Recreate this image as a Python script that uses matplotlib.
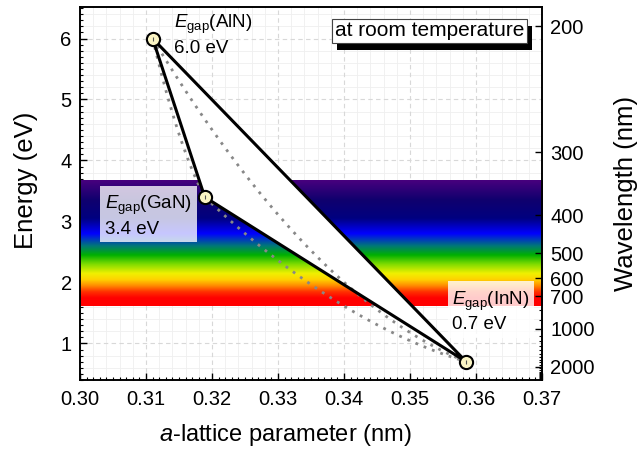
import numpy as np
import matplotlib
matplotlib.use("Agg")
import matplotlib.pyplot as plt
from matplotlib.colors import to_rgb
from matplotlib.patches import Rectangle

# ---- data ----
materials = ["AlN", "GaN", "InN"]
lattice_a = [0.311, 0.3189, 0.3585]   # nm
gap_ev = [6.0, 3.4, 0.7]              # eV
gap_labels = ["6.0 eV", "3.4 eV", "0.7 eV"]
bowing = {("AlN", "GaN"): 1.0, ("GaN", "InN"): 1.4, ("AlN", "InN"): 3.2}
wl_major = [200, 300, 400, 500, 600, 700, 1000, 2000]
wl_minor = [800, 900, 1100, 1200, 1300, 1400, 1500, 1600, 1700, 1800, 1900,
            2100, 2200, 2300, 2400, 2500, 2600, 2700, 2800, 2900, 3000]
visible_range = [1.62, 3.67]  # eV
band_E = [1.62, 1.75, 1.85, 1.95, 2.05, 2.15, 2.3, 2.45, 2.6, 2.8, 3.05, 3.35, 3.67]
band_colors = ["#ff0000", "#ff0000", "#ff3000", "#ff8c00", "#ffd200", "#f0f000",
               "#80dc00", "#00b000", "#007878", "#0000ff", "#000080", "#10006e", "#48007e"]
hc = 1239.84

plt.rcParams['font.family'] = ['Liberation Sans', 'DejaVu Sans']
plt.rcParams['mathtext.fontset'] = 'custom'
plt.rcParams['mathtext.rm'] = 'Liberation Sans'
plt.rcParams['mathtext.it'] = 'Liberation Sans:italic'

fig = plt.figure(figsize=(6.4, 4.54), dpi=100)
ax = fig.add_axes([0.125, 0.163, 0.722, 0.822])
xlim = (0.30, 0.37)
ylim = (0.4, 6.52)
ax.set_xlim(*xlim)
ax.set_ylim(*ylim)

# grid
for xv in np.arange(0.30, 0.3701, 0.002):
    if abs(round(xv * 100) - xv * 100) > 1e-6:
        ax.axvline(xv, color="#efefef", lw=0.6, zorder=0)
for yv in np.arange(0.4, 6.6, 0.2):
    if abs(round(yv) - yv) > 1e-6:
        ax.axhline(yv, color="#efefef", lw=0.6, zorder=0)
ax.grid(True, which="major", ls=(0, (4, 3)), color="#d8d8d8", lw=0.8, zorder=0.5)
ax.set_axisbelow(True)

# visible band
Es = np.linspace(visible_range[0], visible_range[1], 400)
rgb = np.array([to_rgb(c) for c in band_colors])
img = np.stack([np.interp(Es, band_E, rgb[:, k]) for k in range(3)], axis=-1)
img = img[:, None, :].repeat(2, axis=1)
ax.imshow(img, origin="lower", aspect="auto",
          extent=[xlim[0], xlim[1], visible_range[0], visible_range[1]], zorder=1,
          interpolation="bilinear")

# triangle
tri_x = [lattice_a[0], lattice_a[1], lattice_a[2], lattice_a[0]]
tri_y = [gap_ev[0], gap_ev[1], gap_ev[2], gap_ev[0]]
ax.fill(tri_x, tri_y, color="white", zorder=2, lw=0)
ax.plot(tri_x, tri_y, color="black", lw=2.2, zorder=4, solid_joinstyle="miter")

# bowing curves
idx = {m: i for i, m in enumerate(materials)}
t = np.linspace(0, 1, 200)
for (m1, m2), b in bowing.items():
    i, j = idx[m1], idx[m2]
    a = (1 - t) * lattice_a[i] + t * lattice_a[j]
    e = (1 - t) * gap_ev[i] + t * gap_ev[j] - b * t * (1 - t)
    ax.plot(a, e, color="#888888", lw=2, ls=(0, (1, 2.2)), zorder=3)

ax.plot(lattice_a, gap_ev, 'o', ms=9.5, mfc="#fbf5c4", mec="black", mew=1.5, zorder=5)
ax.plot(lattice_a, gap_ev, '|', ms=3, color="#555555", mew=0.8, zorder=6)

# labels
fs_ann = 13.5
ax.text(0.3143, 6.06, r"$E_\mathrm{gap}$(AlN)" + "\n" + gap_labels[0], fontsize=fs_ann,
        va="center", ha="left", zorder=7, linespacing=1.25)
ax.text(0.3038, 3.09, r"$E_\mathrm{gap}$(GaN)" + "\n" + gap_labels[1], fontsize=fs_ann,
        va="center", ha="left", zorder=7, linespacing=1.25,
        bbox=dict(boxstyle="square,pad=0.25", fc="white", ec="none", alpha=0.78))
ax.text(0.3564, 1.52, r"$E_\mathrm{gap}$(InN)" + "\n" + gap_labels[2], fontsize=fs_ann,
        va="center", ha="left", zorder=7, linespacing=1.25,
        bbox=dict(boxstyle="square,pad=0.25", fc="white", ec="none", alpha=0.8))

rt_txt = ax.text(0.3386, 6.13, "at room temperature", fontsize=15, va="center", ha="left",
                 zorder=8,
                 bbox=dict(boxstyle="square,pad=0.12", fc="white", ec="#444444", lw=0.8))

# axes styling
ax.set_xticks(np.arange(0.30, 0.3701, 0.01))
ax.set_xticklabels([f"{v:.2f}" for v in np.arange(0.30, 0.3701, 0.01)])
ax.set_xticks(np.arange(0.30, 0.3701, 0.001), minor=True)
ax.set_yticks([1, 2, 3, 4, 5, 6])
ax.set_yticks(np.arange(0.4, 6.52, 0.1), minor=True)
ax.tick_params(which="both", direction="in", top=False, right=False, labelsize=14.5)
ax.tick_params(which="major", length=5, width=1)
ax.tick_params(which="minor", length=2.5, width=0.8)
ax.tick_params(axis="x", which="major", pad=7)
ax.tick_params(axis="y", which="major", pad=6)
for s in ax.spines.values():
    s.set_linewidth(1.2)
    s.set_zorder(10)
ax.set_xlabel(r"$a$-lattice parameter (nm)", fontsize=17)
ax.xaxis.set_label_coords(0.444, -0.112)
ax.set_ylabel("Energy (eV)", fontsize=18.5)
ax.yaxis.set_label_coords(-0.09, 0.536)

ax2 = ax.twinx()
ax2.set_ylim(*ylim)
ax2.set_yticks([hc / w for w in wl_major])
ax2.set_yticklabels([str(w) for w in wl_major])
ax2.set_yticks([hc / w for w in wl_minor], minor=True)
ax2.tick_params(which="both", direction="in", labelsize=14.5)
ax2.tick_params(which="major", length=5, width=1, pad=6)
ax2.tick_params(which="minor", length=2.5, width=0.8)
ax2.set_ylabel("Wavelength (nm)", fontsize=18.5, labelpad=14)
for s in ax2.spines.values():
    s.set_linewidth(1.2)

# drop shadow of the "room temperature" box
fig.canvas.draw()
bb = rt_txt.get_bbox_patch().get_window_extent()
shadow = Rectangle((bb.x0 + 5, bb.y0 - 7), bb.width, bb.height, transform=None,
                   facecolor="black", edgecolor="none", zorder=7.5)
ax.add_artist(shadow)

fig.savefig("out.png", dpi=100)
